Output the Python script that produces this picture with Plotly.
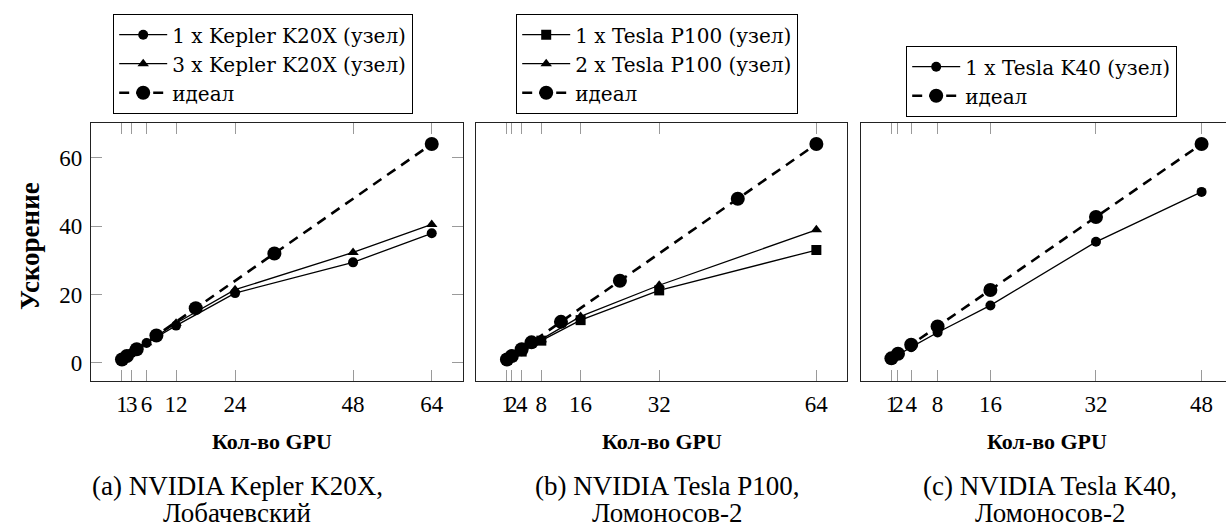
import plotly.graph_objects as go

W, H = 1226, 532

# ---------------- data ----------------
# (a) NVIDIA Kepler K20X, Лобачевский
a_ticks = [1, 3, 6, 12, 24, 48, 64]
a_x1 = [1, 3, 6, 12, 24, 48, 64]
a_y1 = [1.0, 2.9, 5.8, 10.9, 20.4, 29.4, 37.9]
a_x3 = [1, 3, 6, 12, 24, 48, 64]
a_y3 = [1.0, 3.0, 5.9, 11.6, 21.4, 32.3, 40.5]
a_xi = [1, 2, 4, 8, 16, 32, 64]
a_yi = [1, 2, 4, 8, 16, 32, 64]

# (b) NVIDIA Tesla P100, Ломоносов-2
b_ticks = [1, 2, 4, 8, 16, 32, 64]
b_x1 = [1, 2, 4, 8, 16, 32, 64]
b_y1 = [1.0, 1.9, 3.3, 6.5, 12.5, 21.2, 33.0]
b_x2 = [1, 2, 4, 8, 16, 32, 64]
b_y2 = [1.0, 2.0, 3.5, 6.8, 13.6, 22.7, 38.9]
b_xi = [1, 2, 4, 6, 12, 24, 48, 64]
b_yi = [1, 2, 4, 6, 12, 24, 48, 64]

# (c) NVIDIA Tesla K40, Ломоносов-2
c_ticks = [1, 2, 4, 8, 16, 32, 48]
c_x1 = [1, 2, 4, 8, 16, 32, 48]
c_y1 = [1.0, 2.3, 4.6, 8.9, 16.8, 35.4, 50.0]
c_xi = [1, 2, 4, 8, 16, 32, 48]
c_yi = [1.33, 2.67, 5.33, 10.67, 21.33, 42.67, 64.0]

y_ticks = [0, 20, 40, 60]

FONT = "Liberation Serif, serif"
LFONT = "DejaVu Serif, serif"

fig = go.Figure()


def solid(x, y, name, sym, size, xa, ya, leg):
    fig.add_trace(go.Scatter(
        x=x, y=y, name=name, mode="lines+markers", xaxis=xa, yaxis=ya, legend=leg,
        line=dict(color="black", width=1.3),
        marker=dict(symbol=sym, size=size, color="black")))


def ideal(x, y, xa, ya, leg):
    fig.add_trace(go.Scatter(
        x=x, y=y, name="идеал", mode="lines+markers", xaxis=xa, yaxis=ya, legend=leg,
        line=dict(color="black", width=2.6, dash="10px,7px"),
        marker=dict(symbol="circle", size=14, color="black")))


solid(a_x1, a_y1, "1 x Kepler K20X (узел)", "circle", 10, "x", "y", "legend")
solid(a_x3, a_y3, "3 x Kepler K20X (узел)", "triangle-up", 10, "x", "y", "legend")
ideal(a_xi, a_yi, "x", "y", "legend")

solid(b_x1, b_y1, "1 x Tesla P100 (узел)", "square", 10, "x2", "y2", "legend2")
solid(b_x2, b_y2, "2 x Tesla P100 (узел)", "triangle-up", 10, "x2", "y2", "legend2")
ideal(b_xi, b_yi, "x2", "y2", "legend2")

solid(c_x1, c_y1, "1 x Tesla K40 (узел)", "circle", 10, "x3", "y3", "legend3")
ideal(c_xi, c_yi, "x3", "y3", "legend3")

# ---------------- layout ----------------
ydom = [1 - 381 / H, 1 - 122.5 / H]
yrange = [-5.3, 70.3]
tickfont = dict(family=FONT, size=23, color="black")


def xax(dom, rng, ticks, anchor):
    return dict(domain=dom, range=rng, anchor=anchor, tickvals=ticks,
                ticktext=[str(t) for t in ticks], tickangle=0,
                ticks="inside", ticklen=11, tickwidth=1.3, tickcolor="#9a9a9a",
                showline=True, linecolor="#222", linewidth=1.3, mirror="ticks",
                showgrid=False, zeroline=False, tickfont=tickfont,
                ticklabelstandoff=2, fixedrange=True)


def yax(anchor, labels, mirror):
    d = dict(domain=ydom, range=yrange, anchor=anchor,
             showline=True, linecolor="#222", linewidth=1.3, mirror=mirror,
             showgrid=False, zeroline=False, fixedrange=True, tickfont=tickfont)
    if labels:
        d.update(tickvals=y_ticks, ticks="inside", ticklen=11, tickwidth=1.3,
                 tickcolor="#9a9a9a", ticklabelstandoff=3)
    else:
        d.update(showticklabels=False, ticks="")
    return d


legfont = dict(family=LFONT, size=20, color="black")


def leg(x, y):
    return dict(x=x / W, y=1 - y / H, xref="paper", yref="paper",
                xanchor="left", yanchor="top", bgcolor="white",
                bordercolor="black", borderwidth=1.2, font=legfont,
                itemwidth=48, tracegroupgap=0,
                itemclick=False, itemdoubleclick=False)


fig.update_layout(
    width=W, height=H,
    margin=dict(l=0, r=0, t=0, b=0),
    paper_bgcolor="white", plot_bgcolor="white",
    showlegend=True,
    xaxis=xax([91 / W, 462.7 / W], [-5.3, 70.3], a_ticks, "y"),
    xaxis2=xax([476 / W, 847.3 / W], [-5.3, 70.3], b_ticks, "y2"),
    xaxis3=xax([860.7 / W, 1.0], [-3.65, 51.7], c_ticks, "y3"),
    yaxis=yax("x", True, "ticks"),
    yaxis2=yax("x2", False, True),
    yaxis3=yax("x3", False, False),
    legend=leg(113, 14),
    legend2=leg(516, 14),
    legend3=leg(906, 46),
)

ann = []
titlefont = dict(family=FONT, size=22, color="black")
ytitlefont = dict(family=FONT, size=27, color="black")
capfont = dict(family=FONT, size=27, color="black")
for cx in [272, 661.7, 1046.7]:
    ann.append(dict(text="<b>Кол-во GPU</b>", x=cx / W, y=1 - 441 / H, xref="paper", yref="paper",
                    xanchor="center", yanchor="middle", showarrow=False, font=titlefont))
ann.append(dict(text="<b>Ускорение</b>", x=30 / W, y=1 - 246 / H, xref="paper", yref="paper",
                xanchor="center", yanchor="middle", showarrow=False, textangle=-90, font=ytitlefont))
captions = [
    (237, "(a) NVIDIA Kepler K20X,", "Лобачевский"),
    (667, "(b) NVIDIA Tesla P100,", "Ломоносов-2"),
    (1050, "(c) NVIDIA Tesla K40,", "Ломоносов-2"),
]
for cx, l1, l2 in captions:
    ann.append(dict(text=l1, x=cx / W, y=1 - 486 / H, xref="paper", yref="paper",
                    xanchor="center", yanchor="middle", showarrow=False, font=capfont))
    ann.append(dict(text=l2, x=cx / W, y=1 - 513 / H, xref="paper", yref="paper",
                    xanchor="center", yanchor="middle", showarrow=False, font=capfont))
fig.update_layout(annotations=ann)

fig.write_html("out.html", config={"displayModeBar": False},
               post_script="document.body.style.margin='0px';document.body.style.overflow='hidden';")
